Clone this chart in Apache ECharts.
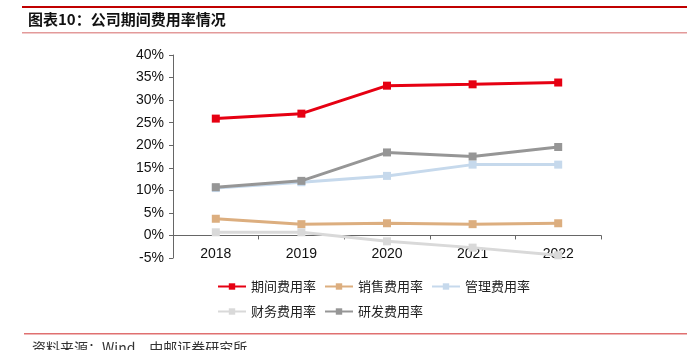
<!DOCTYPE html>
<html><head><meta charset="utf-8">
<script src="https://cdn.jsdelivr.net/npm/echarts@6/dist/echarts.min.js"></script>
<style>html,body{margin:0;padding:0;background:#fff}#c{width:687px;height:350px}</style>
</head><body><div id="c"></div>
<script>
var categories = ['2018','2019','2020','2021','2022'];
var qijian = [25.9, 27.0, 33.2, 33.5, 33.9];
var xiaoshou = [3.7, 2.5, 2.7, 2.5, 2.7];
var guanli = [10.5, 11.8, 13.2, 15.7, 15.7];
var caiwu = [0.7, 0.7, -1.3, -2.7, -4.4];
var yanfa = [10.7, 12.1, 18.4, 17.5, 19.6];
var seriesNames = ['期间费用率','销售费用率','管理费用率','财务费用率','研发费用率'];
var yTicks = {min:-5, max:40, interval:5};

var colors = ['#e60012','#dcae7f','#c6d9ec','#d9d9d9','#969696'];
var data = [qijian, xiaoshou, guanli, caiwu, yanfa];
var font = '"Liberation Sans", "Noto Sans CJK SC", sans-serif';
var chart = echarts.init(document.getElementById('c'));
chart.setOption({
  animation:false,
  color: colors,
  textStyle:{fontFamily:font},
  grid:{left:173, right:86, top:55, bottom:92, containLabel:false},
  legend:{
    left:212, top:273, width:330, padding:5,
    itemWidth:28, itemHeight:8, itemGap:8,
    textStyle:{fontSize:13, lineHeight:17, color:'#222', fontFamily:'"Noto Sans CJK SC", sans-serif'},
    data: seriesNames
  },
  xAxis:{
    type:'category', data:categories, boundaryGap:true,
    axisLine:{show:true, onZero:true, lineStyle:{color:'#666', width:1}},
    axisTick:{show:true, inside:false, length:4, lineStyle:{color:'#666'}},
    axisLabel:{fontSize:14, color:'#111', margin:-11}
  },
  yAxis:{
    type:'value', min:yTicks.min, max:yTicks.max, interval:yTicks.interval,
    splitLine:{show:false},
    axisLine:{show:true, lineStyle:{color:'#666'}},
    axisTick:{show:true, length:4, lineStyle:{color:'#666'}},
    axisLabel:{fontSize:14, color:'#111', margin:9, formatter:'{value}%'}
  },
  series: data.map(function(d,i){
    return {name:seriesNames[i], type:'line', data:d, symbol:'rect', symbolSize:8,
      lineStyle:{width:3, color:colors[i]}, itemStyle:{color:colors[i]}, z: 2+i};
  }),
  graphic:[
    {type:'rect', shape:{x:22, y:6, width:665, height:2}, style:{fill:'#c00000'}},
    {type:'text', left:28, top:12, style:{text:'图表10：公司期间费用率情况', fontSize:15, fontWeight:'bold', fill:'#111', fontFamily:'"Noto Sans CJK SC", sans-serif'}},
    {type:'rect', shape:{x:22, y:32, width:665, height:1.5}, style:{fill:'#e39a9a'}},
    {type:'rect', shape:{x:24, y:333, width:663, height:1.5}, style:{fill:'#e07070'}},
    {type:'text', left:32, top:341, style:{text:'资料来源：Wind，中邮证券研究所', fontSize:14, fill:'#333', fontFamily:'"Noto Sans CJK SC", sans-serif'}}
  ]
});
</script></body></html>
